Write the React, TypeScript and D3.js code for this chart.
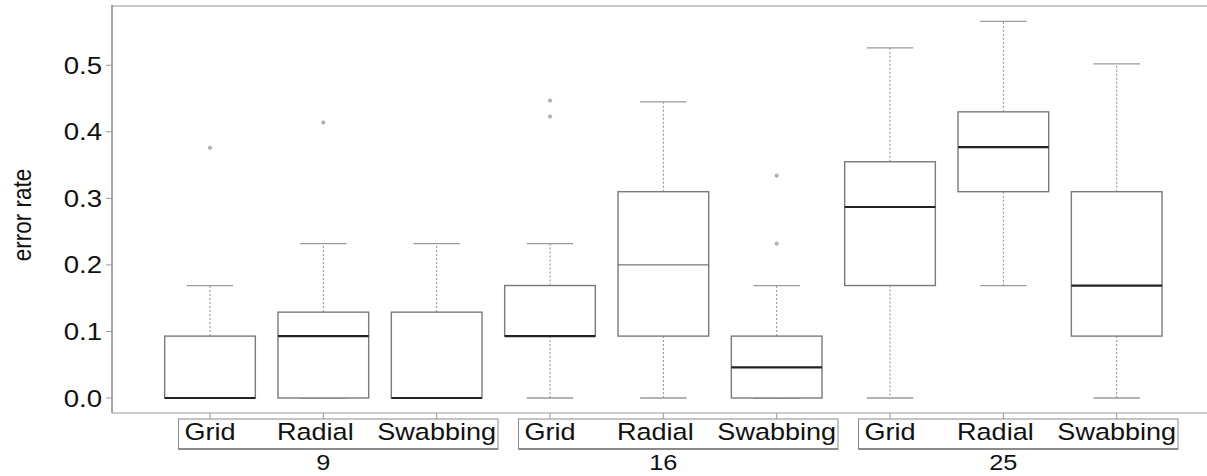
import React, { useEffect, useRef } from "react";
import * as d3 from "d3";

const groups = ["9", "16", "25"];
const methods = ["Grid", "Radial", "Swabbing"];
const yTicks = [0, 0.1, 0.2, 0.3, 0.4, 0.5];

// one entry per box, ordered group-major (9: Grid, Radial, Swabbing; 16: ...; 25: ...)
const lowWhisker = [0, 0, 0, 0, 0, 0, 0, 0.169, 0];
const q1 = [0, 0, 0, 0.093, 0.093, 0, 0.169, 0.31, 0.093];
const median = [0, 0.093, 0, 0.093, 0.2, 0.046, 0.287, 0.377, 0.169];
const q3 = [0.093, 0.129, 0.129, 0.169, 0.31, 0.093, 0.355, 0.43, 0.31];
const highWhisker = [0.169, 0.232, 0.232, 0.232, 0.445, 0.169, 0.526, 0.566, 0.502];
const outlierBox = [0, 1, 3, 3, 5, 5];
const outlierValue = [0.376, 0.414, 0.423, 0.447, 0.232, 0.334];

const W = 1207;
const H = 476;
const FONT = "'Liberation Sans', Arial, sans-serif";
const SX = 1.15;

export default function App() {
  const ref = useRef<SVGSVGElement>(null);

  useEffect(() => {
    const svg = d3.select(ref.current);
    svg.selectAll("*").remove();

    const plotLeft = 112;
    const plotTop = 6;
    const plotBottom = 413;

    const n = groups.length * methods.length;
    const x = d3.scaleLinear().domain([0, n - 1]).range([210, 1116.7]);
    const step = x(1) - x(0);
    const y = d3.scaleLinear().domain([0, 0.5]).range([398, 65.25]);
    const boxW = step * 0.8;
    const capW = step * 0.41;

    svg.append("rect").attr("width", W).attr("height", H).attr("fill", "#fff");

    // frame
    svg.append("line").attr("x1", plotLeft).attr("x2", W).attr("y1", plotTop).attr("y2", plotTop)
      .attr("stroke", "#c8c8c8").attr("stroke-width", 2);
    svg.append("line").attr("x1", plotLeft).attr("x2", plotLeft).attr("y1", plotTop - 1).attr("y2", plotBottom)
      .attr("stroke", "#8a8a8a").attr("stroke-width", 1.5);
    svg.append("line").attr("x1", plotLeft).attr("x2", W).attr("y1", plotBottom).attr("y2", plotBottom)
      .attr("stroke", "#9a9a9a").attr("stroke-width", 1.2);

    // y axis ticks & labels
    const yg = svg.append("g");
    yTicks.forEach((t) => {
      yg.append("line").attr("x1", plotLeft - 6).attr("x2", plotLeft).attr("y1", y(t)).attr("y2", y(t))
        .attr("stroke", "#999").attr("stroke-width", 1);
      yg.append("text")
        .attr("transform", `translate(${plotLeft - 10},${y(t) + 8.5}) scale(${SX},1)`)
        .attr("text-anchor", "end")
        .attr("font-family", FONT).attr("font-size", 24).attr("fill", "#111")
        .text(t.toFixed(1));
    });

    svg.append("text")
      .attr("transform", `translate(31,${y(0.275)}) scale(${SX},1) rotate(-90)`)
      .attr("text-anchor", "middle")
      .attr("font-family", FONT).attr("font-size", 22.5).attr("fill", "#111")
      .text("error rate");

    // boxes
    const bg = svg.append("g");
    for (let i = 0; i < n; i++) {
      const cx = x(i);
      // whiskers (dotted)
      bg.append("line").attr("x1", cx).attr("x2", cx).attr("y1", y(q3[i])).attr("y2", y(highWhisker[i]))
        .attr("stroke", "#8a8a8a").attr("stroke-width", 1).attr("stroke-dasharray", "2,2");
      bg.append("line").attr("x1", cx).attr("x2", cx).attr("y1", y(q1[i])).attr("y2", y(lowWhisker[i]))
        .attr("stroke", "#8a8a8a").attr("stroke-width", 1).attr("stroke-dasharray", "2,2");
      // caps
      [highWhisker[i], lowWhisker[i]].forEach((v) => {
        bg.append("line").attr("x1", cx - capW / 2).attr("x2", cx + capW / 2).attr("y1", y(v)).attr("y2", y(v))
          .attr("stroke", "#9a9a9a").attr("stroke-width", 1.3);
      });
      // box
      bg.append("rect")
        .attr("x", cx - boxW / 2).attr("width", boxW)
        .attr("y", y(q3[i])).attr("height", Math.max(0, y(q1[i]) - y(q3[i])))
        .attr("fill", "#fff").attr("stroke", "#7a7a7a").attr("stroke-width", 1.4);
      // median
      const thin = i === 4;
      bg.append("line").attr("x1", cx - boxW / 2).attr("x2", cx + boxW / 2)
        .attr("y1", y(median[i])).attr("y2", y(median[i]))
        .attr("stroke", thin ? "#555" : "#222").attr("stroke-width", thin ? 1 : 2.2);
    }

    // outliers
    outlierBox.forEach((b, k) => {
      bg.append("circle").attr("cx", x(b)).attr("cy", y(outlierValue[k])).attr("r", 1.6)
        .attr("fill", "#bbb").attr("stroke", "#999").attr("stroke-width", 0.8);
    });

    // x ticks, category labels, group boxes
    const xg = svg.append("g");
    groups.forEach((g, gi) => {
      let minX = Infinity;
      let maxX = -Infinity;
      methods.forEach((m, mi) => {
        const i = gi * methods.length + mi;
        const cx = x(i);
        xg.append("line").attr("x1", cx).attr("x2", cx).attr("y1", plotBottom).attr("y2", plotBottom + 6)
          .attr("stroke", "#999").attr("stroke-width", 1);
        const tx = cx + (mi === 1 ? -8 : 0);
        const t = xg.append("text")
          .attr("transform", `translate(${tx},440) scale(${SX},1)`)
          .attr("text-anchor", "middle")
          .attr("font-family", FONT).attr("font-size", 23.5).attr("fill", "#111")
          .text(m);
        const node = t.node() as SVGTextElement;
        const w = node.getComputedTextLength() * SX;
        minX = Math.min(minX, tx - w / 2);
        maxX = Math.max(maxX, tx + w / 2);
      });
      const bx0 = minX - 6;
      const bx1 = maxX + 2;
      xg.append("rect").attr("x", bx0).attr("y", 419).attr("width", bx1 - bx0).attr("height", 30)
        .attr("fill", "none").attr("stroke", "#8a8a8a").attr("stroke-width", 1);
      xg.append("line").attr("x1", bx0).attr("x2", bx1).attr("y1", 449).attr("y2", 449)
        .attr("stroke", "#555").attr("stroke-width", 1.2);
      xg.append("text")
        .attr("transform", `translate(${x(gi * methods.length + 1)},470) scale(${SX},1)`)
        .attr("text-anchor", "middle")
        .attr("font-family", FONT).attr("font-size", 22).attr("fill", "#111")
        .text(g);
    });
  }, []);

  return (
    <svg
      ref={ref}
      width={W}
      height={H}
      style={{ position: "absolute", left: 0, top: 0, display: "block" }}
    />
  );
}
